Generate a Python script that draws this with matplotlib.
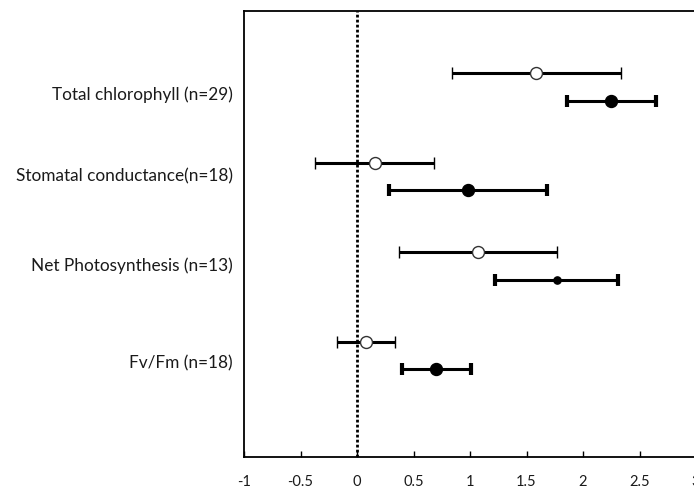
import matplotlib
matplotlib.use("Agg")
import matplotlib.pyplot as plt
import numpy as np

plt.rcParams['font.family'] = ['Lato', 'DejaVu Sans']

labels = ["Total chlorophyll (n=29)", "Stomatal conductance(n=18)",
          "Net Photosynthesis (n=13)", "Fv/Fm (n=18)"]

# open circles (upper row of each pair)
open_mean = [1.58, 0.16, 1.07, 0.08]
open_low = [0.84, -0.37, 0.37, -0.18]
open_high = [2.34, 0.68, 1.77, 0.34]

# filled circles (lower row of each pair)
filled_mean = [2.25, 0.98, 1.77, 0.70]
filled_low = [1.86, 0.28, 1.22, 0.40]
filled_high = [2.65, 1.68, 2.31, 1.01]
filled_size = [8.6, 8.6, 5.2, 8.6]

xticks = [-1, -0.5, 0, 0.5, 1, 1.5, 2, 2.5, 3]
xtick_labels = ["-1", "-0.5", "0", "0.5", "1", "1.5", "2", "2.5", "3"]

fig = plt.figure(figsize=(6.94, 4.91), dpi=100)
ax = fig.add_axes([244 / 694, 34 / 491, 452 / 694, 446 / 491])
ax.set_xlim(-1, 3)
ax.set_ylim(4.135, -0.848)

pos = np.arange(len(labels))
off = 0.155

ax.axvline(0, color="black", lw=2.0, ls=(0, (1, 0.8)), zorder=1)

for i in range(len(labels)):
    m, lo, hi = open_mean[i], open_low[i], open_high[i]
    ax.errorbar([m], [pos[i] - off], xerr=[[m - lo], [hi - m]],
                fmt="o", color="black", ecolor="black", elinewidth=2.2,
                capsize=4.2, capthick=3, markersize=8.6,
                markerfacecolor="white", markeredgecolor="#333333",
                markeredgewidth=1.0, zorder=3)
    m, lo, hi = filled_mean[i], filled_low[i], filled_high[i]
    ax.errorbar([m], [pos[i] + off], xerr=[[m - lo], [hi - m]],
                fmt="o", color="black", ecolor="black", elinewidth=2.2,
                capsize=4.2, capthick=3, markersize=filled_size[i],
                markerfacecolor="black", markeredgecolor="black", zorder=3)

label_y = [0.09, 1.0, 1.995, 3.085]
for lab, yy in zip(labels, label_y):
    ax.text(-1.1, yy, lab, ha="right", va="center", fontsize=12.4,
            color="#1a1a1a")

ax.set_yticks([])
ax.set_xticks(xticks)
ax.set_xticklabels(xtick_labels, fontsize=10.5, color="#1a1a1a")
ax.tick_params(axis="x", direction="in", length=4, width=1, pad=13,
               top=False)

for s in ["left", "top", "bottom"]:
    ax.spines[s].set_linewidth(1.3)
    ax.spines[s].set_color("black")
ax.spines["right"].set_visible(False)

fig.savefig("out.png", dpi=100)
